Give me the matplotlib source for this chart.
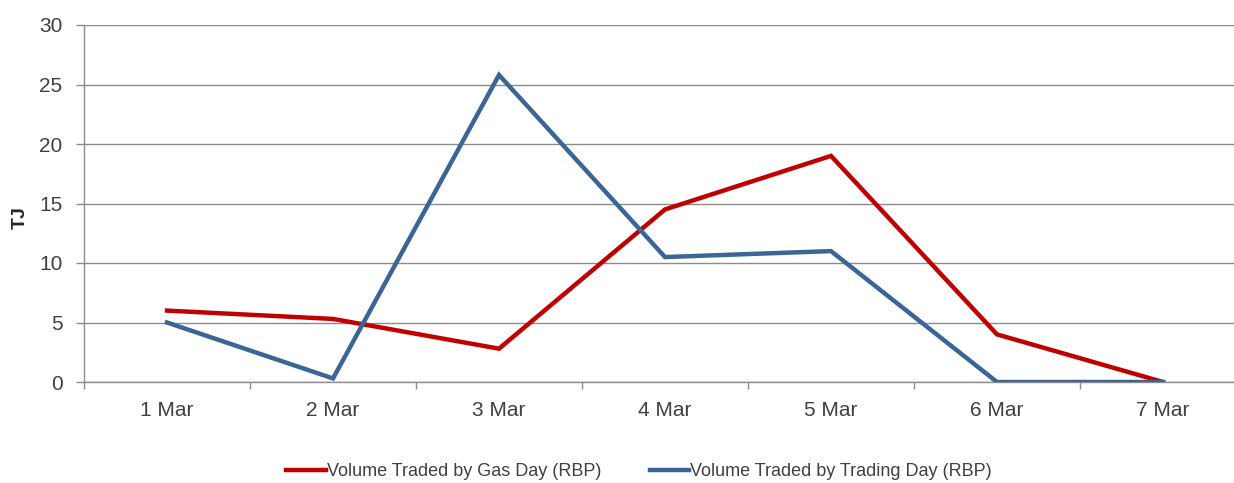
import matplotlib
matplotlib.use("Agg")
import matplotlib.pyplot as plt
import numpy as np

categories = ["1 Mar", "2 Mar", "3 Mar", "4 Mar", "5 Mar", "6 Mar", "7 Mar"]
gas_day = [6.0, 5.3, 2.8, 14.5, 19.0, 4.0, 0.0]
trading_day = [5.0, 0.3, 25.8, 10.5, 11.0, 0.0, 0.0]
yticks = [0, 5, 10, 15, 20, 25, 30]

plt.rcParams['font.family'] = ['Liberation Sans', 'DejaVu Sans']

W, H = 1234, 483
fig = plt.figure(figsize=(W / 100, H / 100), dpi=100)
left, right, top, bottom = 84, 1246, 25, 382
ax = fig.add_axes([left / W, 1 - bottom / H, (right - left) / W, (bottom - top) / H])

x = np.arange(len(categories))
grid_c = "#8c8c8c"
ax.plot(x, gas_day, color="#c00000", lw=3.2, label="Volume Traded by Gas Day (RBP)", solid_joinstyle="miter", zorder=3)
ax.plot(x, trading_day, color="#3a6595", lw=3.2, label="Volume Traded by Trading Day (RBP)", solid_joinstyle="miter", zorder=3)

ax.set_xlim(-0.5, len(categories) - 0.5)
ax.set_ylim(0, 30)
ax.set_yticks(yticks)
ax.set_yticklabels([str(v) for v in yticks], fontsize=15, color="#404040")
ax.set_xticks(x)
ax.set_xticklabels(categories, fontsize=15, color="#404040")
ax.set_xticks(np.arange(len(categories) + 1) - 0.5, minor=True)
ax.tick_params(axis="x", which="major", length=0, pad=14)
ax.tick_params(axis="x", which="minor", length=5, color=grid_c, width=1)
ax.tick_params(axis="y", length=6, color=grid_c, width=1, pad=9.5)

for s in ["top", "right"]:
    ax.spines[s].set_visible(False)
for s in ["left", "bottom"]:
    ax.spines[s].set_color(grid_c)
    ax.spines[s].set_linewidth(1)
ax.yaxis.grid(True, color=grid_c, lw=1)
ax.set_axisbelow(True)

ax.set_ylabel("TJ", fontsize=14, fontweight="bold", color="#262626")
ax.yaxis.set_label_coords((29 - left) / (right - left), (bottom - 217.5) / (bottom - top))

fig.legend(loc="center", bbox_to_anchor=(639 / W, 1 - 472 / H), ncol=2, frameon=False,
           fontsize=13, handlelength=2.2, handletextpad=0.05, columnspacing=2.7,
           labelcolor="#404040")

fig.savefig("out.png", dpi=100)
